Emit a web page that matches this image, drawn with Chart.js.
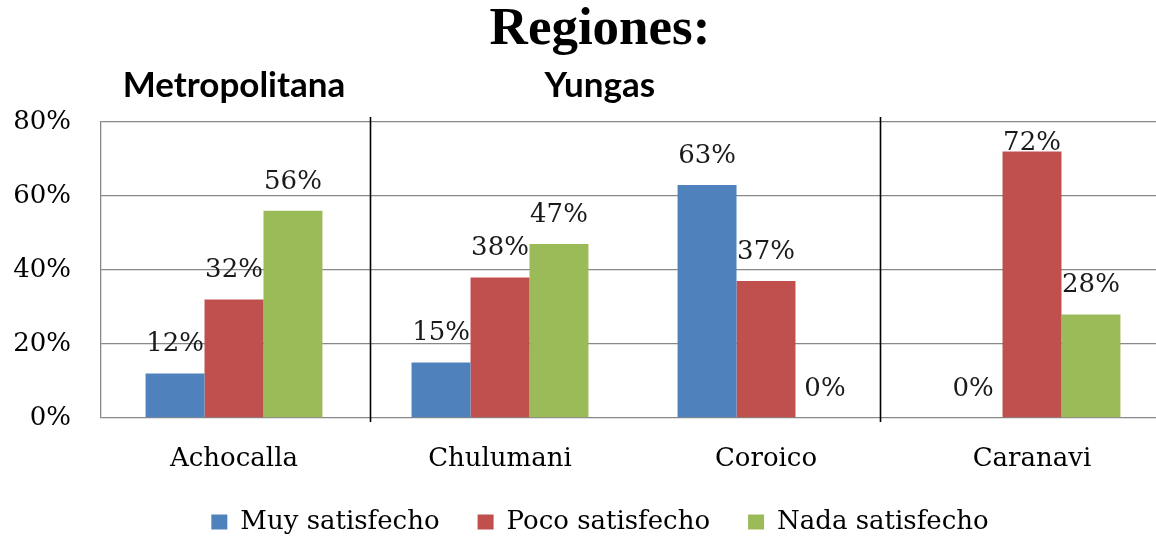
<!DOCTYPE html>
<html>
<head>
<meta charset="utf-8">
<script src="https://cdn.jsdelivr.net/npm/chart.js@4.4.1/dist/chart.umd.min.js"></script>
<style>
  html, body { margin: 0; padding: 0; background: #fff; overflow: hidden; }
  #wrap { width: 1200px; height: 537px; }
</style>
</head>
<body>
<div id="wrap"><canvas id="regChart" width="1200" height="537"></canvas></div>
<script>
const categories = ["Achocalla", "Chulumani", "Coroico", "Caranavi"];
const muySatisfecho = [12, 15, 63, 0];
const pocoSatisfecho = [32, 38, 37, 72];
const nadaSatisfecho = [56, 47, 0, 28];
const regionNames = ["Metropolitana", "Yungas"];
const yMax = 80;
const yStep = 20;

const serif = "'DejaVu Serif', serif";

// region headers and the two black dividers, placed on the category scale
const regionPlugin = {
  id: "regionPlugin",
  afterDraw(chart) {
    const ctx = chart.ctx;
    const x = chart.scales.x;
    const area = chart.chartArea;
    ctx.save();
    ctx.fillStyle = "#000";
    ctx.font = "bold 35px Lato";
    ctx.textAlign = "center";
    ctx.textBaseline = "alphabetic";
    const at = [0, 1.375];
    regionNames.forEach((name, i) => {
      ctx.fillText(name, x.getPixelForValue(at[i]), 97);
    });
    ctx.strokeStyle = "#000";
    ctx.lineWidth = 1.6;
    [0.51, 2.43].forEach(v => {
      const px = Math.round(x.getPixelForValue(v)) + 0.5;
      ctx.beginPath();
      ctx.moveTo(px, area.top - 5);
      ctx.lineTo(px, area.bottom + 4);
      ctx.stroke();
    });
    ctx.restore();
  }
};

const valueLabels = {
  id: "valueLabels",
  afterDatasetsDraw(chart) {
    const ctx = chart.ctx;
    const area = chart.chartArea;
    ctx.save();
    ctx.font = "26px " + serif;
    ctx.fillStyle = "#1a1a1a";
    ctx.textAlign = "center";
    ctx.textBaseline = "middle";
    chart.data.datasets.forEach((ds, di) => {
      chart.getDatasetMeta(di).data.forEach((bar, i) => {
        const y = Math.max(bar.y - 29, area.top + 21);
        ctx.fillText(ds.data[i] + "%", bar.x, y);
      });
    });
    ctx.restore();
  }
};

new Chart(document.getElementById("regChart"), {
  type: "bar",
  data: {
    labels: categories,
    datasets: [
      { label: "Muy satisfecho", data: muySatisfecho, backgroundColor: "#4F81BD" },
      { label: "Poco satisfecho", data: pocoSatisfecho, backgroundColor: "#C0504D" },
      { label: "Nada satisfecho", data: nadaSatisfecho, backgroundColor: "#9BBB59" }
    ]
  },
  options: {
    responsive: false,
    animation: false,
    layout: { padding: { left: 0, right: 0, top: 0, bottom: -8 } },
    datasets: {
      bar: { categoryPercentage: 0.665, barPercentage: 1.0, borderWidth: 0 }
    },
    scales: {
      x: {
        grid: { display: false, drawTicks: false },
        border: { display: false },
        ticks: { color: "#000", font: { family: serif, size: 26 }, padding: 26 },
        afterFit: s => { s.height = 53; }
      },
      y: {
        min: 0,
        max: yMax,
        ticks: {
          stepSize: yStep,
          color: "#000",
          font: { family: serif, size: 26 },
          padding: 30,
          callback: v => v + "%"
        },
        grid: { color: "#888", lineWidth: 1.3, drawTicks: false },
        border: { color: "#888", width: 1.3 },
        afterFit: s => { s.width = 101; }
      },
      // empty right axis: keeps the cropped plot edge while title/legend stay centred
      yRight: {
        position: "right",
        grid: { display: false, drawTicks: false },
        border: { display: false },
        ticks: { display: false },
        afterFit: s => { s.width = 35; }
      }
    },
    plugins: {
      title: {
        display: true,
        text: "Regiones:",
        color: "#000",
        font: { family: "'Liberation Serif'", size: 53, weight: "bold", lineHeight: 1.0 },
        padding: { top: 4, bottom: 65 }
      },
      legend: {
        position: "bottom",
        labels: {
          boxWidth: 16,
          boxHeight: 15,
          padding: 38,
          color: "#000",
          font: { family: serif, size: 26 }
        }
      },
      tooltip: { enabled: false }
    }
  },
  plugins: [regionPlugin, valueLabels]
});
</script>
</body>
</html>
